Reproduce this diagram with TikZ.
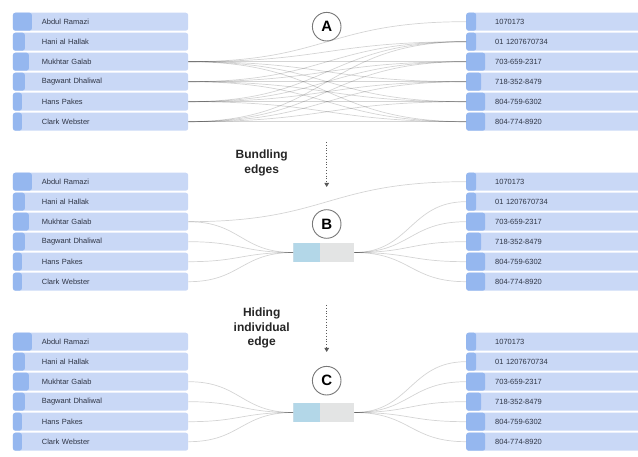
\documentclass[tikz,border=0pt]{standalone}
\usepackage{fontspec}
\setmainfont{Liberation Sans}
\usetikzlibrary{arrows.meta}
\definecolor{rowfill}{HTML}{C9D8F6}
\definecolor{rowtab}{HTML}{95B7EF}
\definecolor{rowtext}{HTML}{2E3444}
\definecolor{bundleblue}{HTML}{B3D7E8}
\definecolor{bundlegray}{HTML}{E3E4E4}
\definecolor{markline}{HTML}{777777}
\tikzset{
    rowbox/.style={rectangle, rounded corners=2.5pt, fill=rowfill, minimum height=18pt, text width=#1, inner xsep=0pt, inner ysep=0pt, align=left, font=\fontsize{7.5}{9}\selectfont, text=rowtext, anchor=west},
    tabbed/.style={path picture={
        \fill[rowtab, rounded corners=2.5pt] (path picture bounding box.south west) rectangle ([xshift=#1pt]path picture bounding box.north west);
    }},
    bundlebox/.style={rectangle, minimum width=60.7pt, minimum height=18.4pt, inner sep=0pt, path picture={
        \fill[bundlegray] (path picture bounding box.south west) rectangle (path picture bounding box.north east);
        \fill[bundleblue] (path picture bounding box.south west) rectangle ([xshift=26.7pt]path picture bounding box.north west);
    }},
    edgeline/.style={draw=black, draw opacity=0.17, line width=0.7pt},
    markcircle/.style={circle, draw=markline, line width=0.9pt, fill=white, minimum size=28.6pt, inner sep=0pt, font=\fontsize{15}{15}\selectfont\bfseries, text=black},
    steplabel/.style={align=center, font=\fontsize{12}{14.5}\selectfont\bfseries, text=black!85},
    flowarrow/.style={draw=black!65, dotted, line width=0.8pt, -{Triangle[length=4pt, width=4.5pt]}}
}

\begin{document}
\begin{tikzpicture}[x=1pt, y=-1pt]
    \clip (0,0) rectangle (638,457);

    % the three panels of rows
    \foreach \pan/\top in {a/21.7, b/181.7, c/341.7} {
        \foreach \i/\who/\w in {1/Abdul Ramazi/19, 2/Hani al Hallak/12, 3/Mukhtar Galab/16, 4/Bagwant Dhaliwal/12, 5/Hans Pakes/9, 6/Clark Webster/9}
            \node[rowbox=175.3pt, tabbed=\w] (l\pan\i) at (12.7, {\top+20*(\i-1)}) {\hspace*{29pt}\who};
        \foreach \j/\num/\w in {1/1070173/10, 2/01 1207670734/10, 3/703-659-2317/19, 4/718-352-8479/15, 5/804-759-6302/19, 6/804-774-8920/19}
            \node[rowbox=180pt, tabbed=\w] (r\pan\j) at (466, {\top+20*(\j-1)}) {\hspace*{29pt}\num};
    }

    \node[bundlebox] (bundb) at (323.7, 252.5) {};
    \node[bundlebox] (bundc) at (323.7, 412.5) {};

    % A: every edge drawn
    \foreach \i in {3,...,6}
        \foreach \j in {2,...,6}
            \draw[edgeline] (la\i.east) .. controls ([xshift=139pt]la\i.east) and ([xshift=-139pt]ra\j.west) .. (ra\j.west);
    \draw[edgeline] (la3.east) .. controls ([xshift=139pt]la3.east) and ([xshift=-139pt]ra1.west) .. (ra1.west);

    % B: bundled, one edge apart
    \foreach \i in {3,...,6}
        \draw[edgeline] (lb\i.east) .. controls ([xshift=52pt]lb\i.east) and ([xshift=-52pt]bundb.west) .. (bundb.west);
    \foreach \j in {2,...,6}
        \draw[edgeline] (bundb.east) .. controls ([xshift=56pt]bundb.east) and ([xshift=-56pt]rb\j.west) .. (rb\j.west);
    \draw[edgeline] (lb3.east) .. controls ([xshift=139pt]lb3.east) and ([xshift=-139pt]rb1.west) .. (rb1.west);

    % C: bundled only
    \foreach \i in {3,...,6}
        \draw[edgeline] (lc\i.east) .. controls ([xshift=52pt]lc\i.east) and ([xshift=-52pt]bundc.west) .. (bundc.west);
    \foreach \j in {2,...,6}
        \draw[edgeline] (bundc.east) .. controls ([xshift=56pt]bundc.east) and ([xshift=-56pt]rc\j.west) .. (rc\j.west);

    \node[markcircle] (marka) at (326.7, 26.7) {A};
    \node[markcircle] (markb) at (326.7, 224) {B};
    \node[markcircle] (markc) at (326.7, 380.7) {C};

    \node[steplabel] (bundlelbl) at (261.7, 163) {Bundling\\edges};
    \node[steplabel] (hidelbl) at (261.7, 328) {Hiding\\individual\\edge};

    \coordinate (bundtop) at (326.7, 142);
    \coordinate (bundend) at (326.7, 187);
    \coordinate (hidetop) at (326.7, 305);
    \coordinate (hideend) at (326.7, 352);
    \draw[flowarrow] (bundtop) -- (bundend);
    \draw[flowarrow] (hidetop) -- (hideend);
\end{tikzpicture}
\end{document}
